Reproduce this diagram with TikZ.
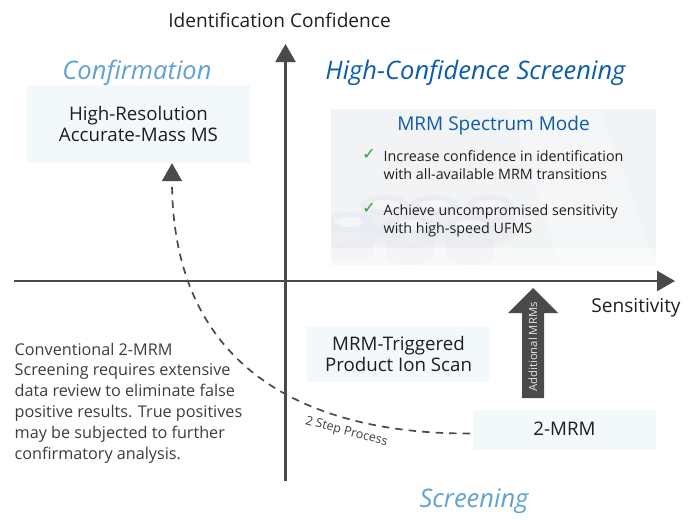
\documentclass[tikz,border=0pt]{standalone}
\usepackage{fontspec}
\setmainfont{Open Sans}
\usetikzlibrary{arrows.meta,shapes.arrows}
\definecolor{axisgray}{HTML}{4A4A4A}
\definecolor{boxblue}{HTML}{F3F8FB}
\definecolor{lightblue}{HTML}{5FA3D6}
\definecolor{deepblue}{HTML}{0B5CAD}
\definecolor{txt}{HTML}{1E1E1E}
\definecolor{txtgray}{HTML}{3C3C3C}
\definecolor{panel}{HTML}{F2F3F4}
\definecolor{vial}{HTML}{E9EBF2}
\definecolor{chk}{HTML}{2E9E3C}
\tikzset{
  axisline/.style={draw=axisgray,line width=2.5pt,-{Triangle[length=18pt,width=20pt]}},
  softbox/.style={fill=boxblue,draw=none,inner sep=0pt},
  boxtext/.style={text=txt,font=\fontsize{18.7}{21}\selectfont,align=center,inner sep=0pt},
  quadrant/.style={font=\fontsize{25.5}{28}\selectfont\itshape,inner sep=0pt},
  bodytext/.style={text=txt,font=\fontsize{14.3}{18}\selectfont,align=left,inner sep=0pt,anchor=north west},
  tick/.style={text=chk,font=\fontsize{16}{16}\selectfont,inner sep=0pt},
  caption/.style={text=txt,font=\fontsize{19.1}{22}\selectfont,inner sep=0pt}
}
\newfontfamily\symfont{DejaVu Sans}
\begin{document}
\begin{tikzpicture}[x=1pt,y=-1pt]
\useasboundingbox (0,0) rectangle (690,520);
% boxes
\node[softbox,minimum width=223pt,minimum height=78pt] (conf) at (138.5,124) {};
\node[softbox,minimum width=183pt,minimum height=55pt] (trig) at (398.5,354.5) {};
\node[softbox,minimum width=183pt,minimum height=40pt] (mrm) at (564.5,430) {};
% image panel
\fill[panel] (331,109) rectangle (656,265);
\begin{scope}
\clip (331,109) rectangle (656,265);
\fill[white,opacity=.3] (510,109) -- (600,109) -- (656,265) -- (560,265) -- cycle;
\foreach \cx/\cy in {350/222,385/205,435/205,490/205,410/225,470/225}{
  \fill[vial,opacity=.55] (\cx-24,\cy) rectangle (\cx+24,\cy+30);
  \fill[vial,opacity=.7] (\cx,\cy) ellipse (24pt and 10pt);
  \fill[white,opacity=.5] (\cx,\cy) ellipse (15pt and 5pt);
  \fill[vial,opacity=.5] (\cx,\cy+30) ellipse (24pt and 10pt);
}
\fill[white,opacity=.45] (331,248) rectangle (656,265);
\end{scope}
% axes
\coordinate (xs) at (14,281); \coordinate (xe) at (675,281);
\coordinate (ys) at (285.5,481); \coordinate (ye) at (285.5,44);
\draw[axisline] (xs) -- (xe);
\draw[axisline] (ys) -- (ye);
% dashed curve
\coordinate (cstart) at (470,433.5);
\node[inner sep=0pt,minimum size=0pt] (ctip) at (172,163) {};
\draw[axisgray,line width=1.7pt,dash pattern=on 7.5pt off 6pt,-{Triangle[length=18pt,width=20pt]}]
  (cstart) .. controls (330,434) and (172,385) .. (ctip);
% block arrow
\fill[axisgray] (522,398) -- (522,313) -- (508,313) -- (533,288) -- (558,313) -- (544,313) -- (544,398) -- cycle;
\node[rotate=90,text=white!90!black,font=\fontsize{11.3}{13}\selectfont,inner sep=0pt] (addl) at (533,347) {Additional MRMs};
% labels
\node[caption] (ylab) at (279.5,20) {Identification Confidence};
\node[caption] (xlab) at (636,308) {Sensitivity};
\node[quadrant,text=lightblue] (q1) at (137,73) {Confirmation};
\node[quadrant,text=deepblue] (q2) at (475.5,72.5) {High-Confidence Screening};
\node[quadrant,text=lightblue] (q3) at (474,501.5) {Screening};
\node[boxtext] at (138.5,124) {High-Resolution\\Accurate-Mass MS};
\node[boxtext] at (398.5,353.5) {MRM-Triggered\\Product Ion Scan};
\node[boxtext] at (564.5,428.5) {2-MRM};
\node[text=deepblue,font=\fontsize{19}{22}\selectfont,inner sep=0pt] (spec) at (493.5,126) {MRM Spectrum Mode};
\node[tick] (t1) at (369,154) {\symfont ✓};
\node[tick] (t2) at (369,208) {\symfont ✓};
\node[bodytext] (b1) at (383.5,150) {Increase confidence in identification\\with all-available MRM transitions};
\node[bodytext] (b2) at (383.5,204) {Achieve uncompromised sensitivity\\with high-speed UFMS};
\node[text=txtgray,font=\fontsize{16.2}{20.8}\selectfont,align=left,inner sep=0pt,anchor=north west] (note) at (14.5,342.5)
 {Conventional 2-MRM\\Screening requires extensive\\data review to eliminate false\\positive results. True positives\\may be subjected to further\\confirmatory analysis.};
\node[rotate=-15,text=txtgray,font=\fontsize{12.5}{15}\selectfont,inner sep=0pt] (step) at (346.5,432) {2 Step Process};
\end{tikzpicture}
\end{document}
